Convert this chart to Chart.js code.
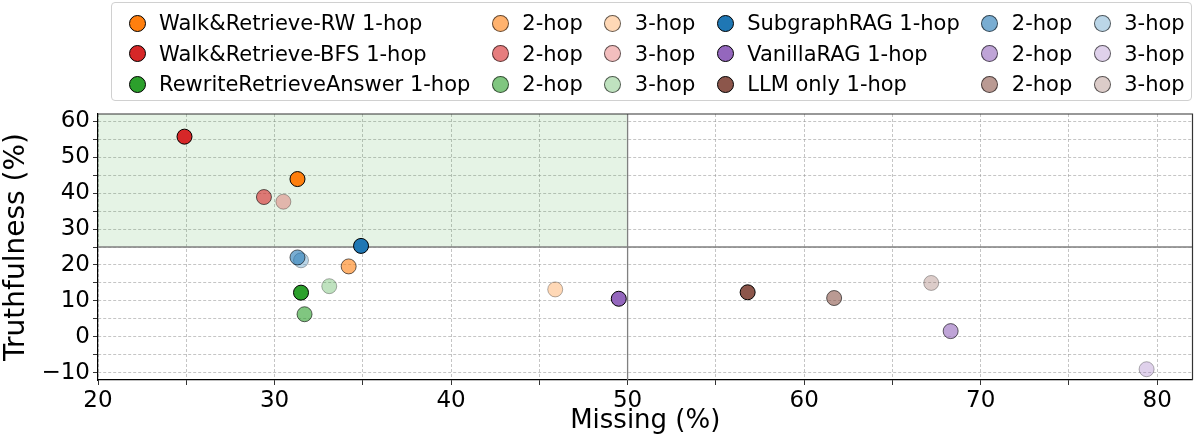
<!DOCTYPE html>
<html>
<head>
<meta charset="utf-8">
<script src="https://cdn.jsdelivr.net/npm/chart.js@4"></script>
<style>
  html, body { margin: 0; padding: 0; background: #fff; }
  #wrap { position: relative; width: 1201px; height: 439px; }
  #legend {
    position: absolute; left: 111px; top: 2px; height: 99px;
    border: 1px solid #d0d0d0; border-radius: 4px; background: rgba(255,255,255,0.8);
    font-family: 'DejaVu Sans', sans-serif; font-size: 21px; color: #000; z-index: 2;
    display: flex; gap: 21.5px; padding: 5px 6px 0 16.5px; box-sizing: border-box;
  }
  .col { display: flex; flex-direction: column; }
  .item { display: flex; align-items: center; height: 30.5px; white-space: nowrap; }
  .dot { width: 17px; height: 17px; border-radius: 50%; box-sizing: border-box; margin-right: 13.5px; flex: none; }
</style>
</head>
<body>
<div id="wrap">
  <canvas id="myChart" width="1201" height="439"></canvas>
  <div id="legend"></div>
</div>
<script>
// data
const methods = ['Walk&Retrieve-RW', 'Walk&Retrieve-BFS', 'RewriteRetrieveAnswer', 'SubgraphRAG', 'VanillaRAG', 'LLM only'];
const hops = ['1-hop', '2-hop', '3-hop'];
const missing = [
    [31.3, 34.2, 45.9],
    [24.9, 29.4, 30.5],
    [31.5, 31.7, 33.1],
    [34.9, 31.3, 31.5],
    [49.5, 68.3, 79.4],
    [56.8, 61.7, 67.2]
];
const truthfulness = [
    [43.9, 19.6, 13.2],
    [55.7, 38.9, 37.6],
    [12.3, 6.3, 14.1],
    [25.3, 22.1, 21.3],
    [10.6, 1.6, -9.0],
    [12.4, 10.8, 15.0]
];
const xTicks = [20, 30, 40, 50, 60, 70, 80];
const yTicks = [-10, 0, 10, 20, 30, 40, 50, 60];
const goodMissing = 50;
const goodTruth = 25;

const baseColors = [[255, 127, 14], [214, 39, 40], [44, 160, 44], [31, 119, 180], [148, 103, 189], [140, 86, 75]];
const alphas = [1, 0.6, 0.3];
const rgba = (c, a) => `rgba(${c[0]},${c[1]},${c[2]},${a})`;

let datasets = [];
methods.forEach((m, i) => {
    hops.forEach((h, j) => {
        datasets.push({
            label: j == 0 ? m + ' ' + h : h,
            data: [{ x: missing[i][j], y: truthfulness[i][j] }],
            backgroundColor: rgba(baseColors[i], alphas[j]),
            borderColor: rgba([0, 0, 0], alphas[j]),
            borderWidth: 1,
            pointRadius: 7.5,
            pointHoverRadius: 7.5
        });
    });
});

// html legend laid out like matplotlib's: 6 columns x 3 rows, filled column by column
const legend = document.getElementById('legend');
for (let c = 0; c < 6; c++) {
    const col = document.createElement('div');
    col.className = 'col';
    const group = c < 3 ? 0 : 3;
    const j = c % 3;
    for (let r = 0; r < 3; r++) {
        const i = group + r;
        const item = document.createElement('div');
        item.className = 'item';
        const dot = document.createElement('span');
        dot.className = 'dot';
        dot.style.background = rgba(baseColors[i], alphas[j]);
        dot.style.border = '1px solid ' + rgba([0, 0, 0], Math.max(alphas[j], 0.6));
        item.appendChild(dot);
        const txt = document.createElement('span');
        txt.textContent = j == 0 ? methods[i] + ' ' + hops[j] : hops[j];
        item.appendChild(txt);
        col.appendChild(item);
    }
    legend.appendChild(col);
}

const regionPlugin = {
    id: 'regions',
    beforeDatasetsDraw(chart) {
        const { ctx, chartArea: a, scales: { x, y } } = chart;
        ctx.save();
        ctx.fillStyle = 'rgba(44,160,44,0.12)';
        const x0 = x.getPixelForValue(x.min), x1 = x.getPixelForValue(goodMissing);
        const y0 = y.getPixelForValue(y.max), y1 = y.getPixelForValue(goodTruth);
        ctx.fillRect(x0, y0, x1 - x0, y1 - y0);
        ctx.strokeStyle = '#808080';
        ctx.lineWidth = 1.3;
        ctx.beginPath();
        ctx.moveTo(x1, a.top); ctx.lineTo(x1, a.bottom);
        ctx.moveTo(a.left, y1); ctx.lineTo(a.right, y1);
        ctx.stroke();
        ctx.restore();
    },
    afterDraw(chart) {
        const { ctx, chartArea: a } = chart;
        ctx.save();
        ctx.strokeStyle = '#333';
        ctx.lineWidth = 1.2;
        ctx.beginPath();
        ctx.moveTo(a.left, a.top); ctx.lineTo(a.right, a.top); ctx.lineTo(a.right, a.bottom);
        ctx.stroke();
        ctx.restore();
    }
};

const gridOpts = {
    color: 'rgba(150,150,150,0.7)',
    lineWidth: 0.8,
    tickColor: '#000',
    tickLength: 5,
    tickBorderDash: []
};

const tickFmt = (v) => (v < 0 ? '\u2212' + Math.abs(v) : String(v));

const myChart = new Chart(document.getElementById('myChart'), {
    type: 'scatter',
    data: { datasets: datasets },
    plugins: [regionPlugin],
    options: {
        responsive: false,
        animation: false,
        layout: { padding: { top: 114, right: -3, left: 0, bottom: 0 } },
        plugins: { legend: { display: false }, tooltip: { enabled: false } },
        scales: {
            x: {
                type: 'linear', min: 20, max: 82,
                afterBuildTicks: (s) => { s.ticks = []; for (let v = 20; v <= 80; v += 5) s.ticks.push({ value: v }); },
                afterFit: (s) => { s.height = 59; s.paddingLeft = 0; s.paddingRight = 0; },
                ticks: {
                    autoSkip: false, maxRotation: 0, color: '#000', padding: 2,
                    font: { family: 'DejaVu Sans', size: 23 },
                    callback: (v) => (xTicks.includes(v) ? tickFmt(v) : '')
                },
                grid: gridOpts,
                border: { display: true, color: '#000', width: 1.2, dash: [3, 2] },
                title: { display: true, text: 'Missing (%)', color: '#000', font: { family: 'DejaVu Sans', size: 26 }, padding: { top: 0, bottom: 2 } }
            },
            y: {
                type: 'linear', min: -12, max: 62,
                afterBuildTicks: (s) => { s.ticks = []; for (let v = -10; v <= 60; v += 5) s.ticks.push({ value: v }); },
                afterFit: (s) => { s.width = 98; s.paddingTop = 0; s.paddingBottom = 0; },
                ticks: {
                    autoSkip: false, color: '#000', padding: 3,
                    font: { family: 'DejaVu Sans', size: 23 },
                    callback: (v) => (yTicks.includes(v) ? tickFmt(v) : '')
                },
                grid: gridOpts,
                border: { display: true, color: '#000', width: 1.2, dash: [3, 2] },
                title: { display: true, text: 'Truthfulness (%)', color: '#000', font: { family: 'DejaVu Sans', size: 28 }, padding: { top: 0, bottom: 4 } }
            }
        }
    }
});
</script>
</body>
</html>
